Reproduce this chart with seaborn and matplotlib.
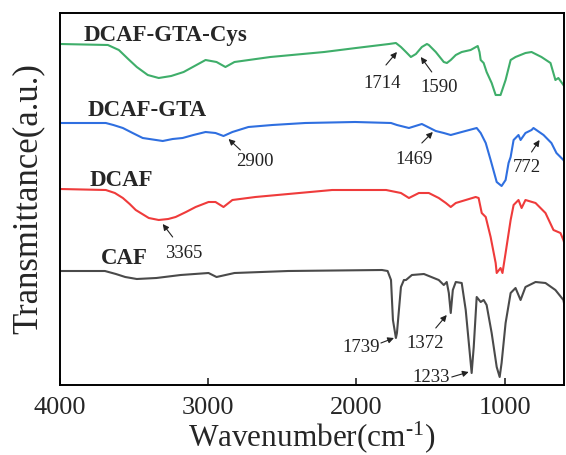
import matplotlib
matplotlib.use("Agg")
import matplotlib.pyplot as plt
import seaborn as sns
import pandas as pd

# ---------------- data ----------------
cys_wn = [4000, 3677, 3603, 3540, 3482, 3408, 3334, 3250, 3166, 3018, 2944, 2884, 2823, 2581, 2218, 2003,
          1781, 1734, 1700, 1666, 1633, 1599, 1559, 1525, 1512, 1465, 1411, 1390, 1364, 1330,
          1290, 1230, 1182, 1170, 1162, 1142, 1122, 1088, 1061, 1028, 994, 960, 927, 860, 819,
          752, 691, 658, 638, 604, 600]
cys_t = [341, 340, 335, 326, 318, 310, 307, 309, 313, 325, 323, 318, 323, 328, 333, 337,
         341, 342, 338, 333, 328, 331, 338, 341, 340, 333, 323, 322, 325, 330,
         333, 335, 339, 333, 325, 322, 313, 302, 290, 290, 305, 325, 328, 332, 333,
         328, 322, 305, 307, 300, 299]

gta_wn = [4000, 3691, 3640, 3576, 3510, 3442, 3307, 3240, 3173, 3100, 3018, 2951, 2897, 2837, 2729,
          2568, 2346, 2009, 1767, 1727, 1646, 1559, 1465, 1411, 1364, 1290, 1189, 1162, 1128, 1095,
          1054, 1021, 994, 974, 960, 940, 907, 893, 860, 819, 806, 738, 685, 651, 604, 600]
gta_t = [262, 262, 260, 257, 252, 247, 244, 246, 247, 250, 253, 252, 249, 253, 258,
         260, 262, 263, 262, 260, 257, 261, 254, 252, 250, 253, 257, 252, 242, 225,
         203, 199, 205, 222, 228, 245, 250, 245, 252, 255, 257, 250, 242, 232, 225, 224]

dcaf_wn = [4000, 3691, 3630, 3576, 3530, 3489, 3401, 3334, 3270, 3220, 3150, 3085, 2998, 2951, 2897,
           2837, 2682, 2460, 2164, 1800, 1700, 1646, 1579, 1512, 1445, 1397, 1364, 1330, 1196, 1176,
           1155, 1128, 1095, 1061, 1054, 1028, 1015, 994, 960, 940, 907, 886, 860, 792, 725, 671,
           624, 604, 600]
dcaf_t = [196, 195, 192, 187, 181, 175, 167, 165, 166, 168, 173, 178, 183, 183, 178,
          185, 188, 191, 195, 195, 192, 187, 192, 192, 187, 182, 178, 182, 188, 187,
          172, 168, 148, 122, 112, 117, 112, 132, 165, 180, 185, 177, 185, 182, 172, 155,
          152, 145, 143]

caf_wn = [4000, 3697, 3623, 3560, 3482, 3350, 3186, 2998, 2944, 2823, 2460, 1828, 1790, 1767, 1754,
          1734, 1727, 1700, 1680, 1666, 1626, 1545, 1445, 1411, 1391, 1377, 1364, 1350, 1330, 1290,
          1263, 1223, 1209, 1189, 1162, 1142, 1122, 1088, 1054, 1034, 1021, 994, 960, 927, 893,
          860, 792, 725, 658, 604, 600]
caf_t = [114, 114, 111, 108, 106, 107, 110, 112, 108, 112, 114, 115, 114, 105, 65,
         47, 52, 98, 105, 105, 110, 111, 105, 100, 103, 92, 72, 95, 103, 102,
         75, 12, 38, 88, 83, 85, 80, 52, 18, 8, 22, 62, 92, 97, 85,
         98, 103, 102, 95, 85, 82]

series_names = ["DCAF-GTA-Cys", "DCAF-GTA", "DCAF", "CAF"]
series_colors = ["#3fae6a", "#2f6fe0", "#ef3b3b", "#4a4a4a"]

# label text, label position (wn, t), arrow tail (wn, t), arrow tip (wn, t)
peak_labels = ["1714", "1590", "2900", "1469", "772", "3365", "1739", "1372", "1233"]
peak_text_pos = [(1828, 302), (1445, 297), (2682, 223), (1613, 225), (853, 218),
                 (3166, 132), (1969, 37), (1539, 42), (1498, 8)]
peak_arrow_tail = [(1801, 320), (1492, 313), (2783, 235), (1559, 242), (819, 233),
                   (3240, 148), (1835, 42), (1465, 57), (1357, 8)]
peak_arrow_tip = [(1727, 333), (1566, 328), (2863, 246), (1485, 253), (765, 245),
                  (3307, 161), (1747, 47), (1391, 70), (1243, 13)]

name_pos = [(3839, 350), (3812, 274), (3798, 204), (3724, 126)]

x_ticks = [4000, 3000, 2000, 1000]

# ---------------- build table ----------------
frames = []
for name, wn, t in zip(series_names,
                       [cys_wn, gta_wn, dcaf_wn, caf_wn],
                       [cys_t, gta_t, dcaf_t, caf_t]):
    frames.append(pd.DataFrame({"wn": wn, "t": t, "sample": name}))
df = pd.concat(frames, ignore_index=True)

# ---------------- plot ----------------
sns.set_style("ticks")
plt.rcParams["font.family"] = ["Liberation Serif", "DejaVu Serif"]
plt.rcParams["mathtext.fontset"] = "custom"
plt.rcParams["mathtext.rm"] = "Liberation Serif"
plt.rcParams["mathtext.it"] = "Liberation Serif:italic"

fig = plt.figure(figsize=(5.66, 4.55), dpi=100)
ax = fig.add_axes([60 / 566, 70 / 455, 504 / 566, 372 / 455])

sns.lineplot(data=df, x="wn", y="t", hue="sample", hue_order=series_names,
             palette=series_colors, estimator=None, linewidth=1.5, legend=False, ax=ax)

ax.set_xlim(4000, 600)
ax.set_ylim(0, 372)
ax.set_xticks(x_ticks)
ax.set_xticklabels([str(v) for v in x_ticks], fontsize=19)
ax.set_yticks([])
ax.tick_params(axis="x", direction="in", length=5, width=1.2, pad=9)
for sp in ax.spines.values():
    sp.set_visible(True)
    sp.set_linewidth(1.4)
    sp.set_color("black")

ax.set_xlabel("Wavenumber(cm$^{\u2010\\mathrm{1}}$)", fontsize=22.5, labelpad=0)
ax.set_ylabel("Transmittance(a.u.)", fontsize=25, labelpad=11)

for name, (x, y) in zip(series_names, name_pos):
    ax.text(x, y, name, fontsize=16.5, fontweight="bold", ha="left", va="center")

for lab, tp, tail, tip in zip(peak_labels, peak_text_pos, peak_arrow_tail, peak_arrow_tip):
    ax.text(tp[0], tp[1], lab, fontsize=13.5, ha="center", va="center", color="#222222")
    ax.annotate("", xy=tip, xytext=tail,
                arrowprops=dict(arrowstyle="-|>", color="#222222", lw=0.8,
                                mutation_scale=9, shrinkA=0, shrinkB=0))

fig.savefig("out.png", dpi=100)
